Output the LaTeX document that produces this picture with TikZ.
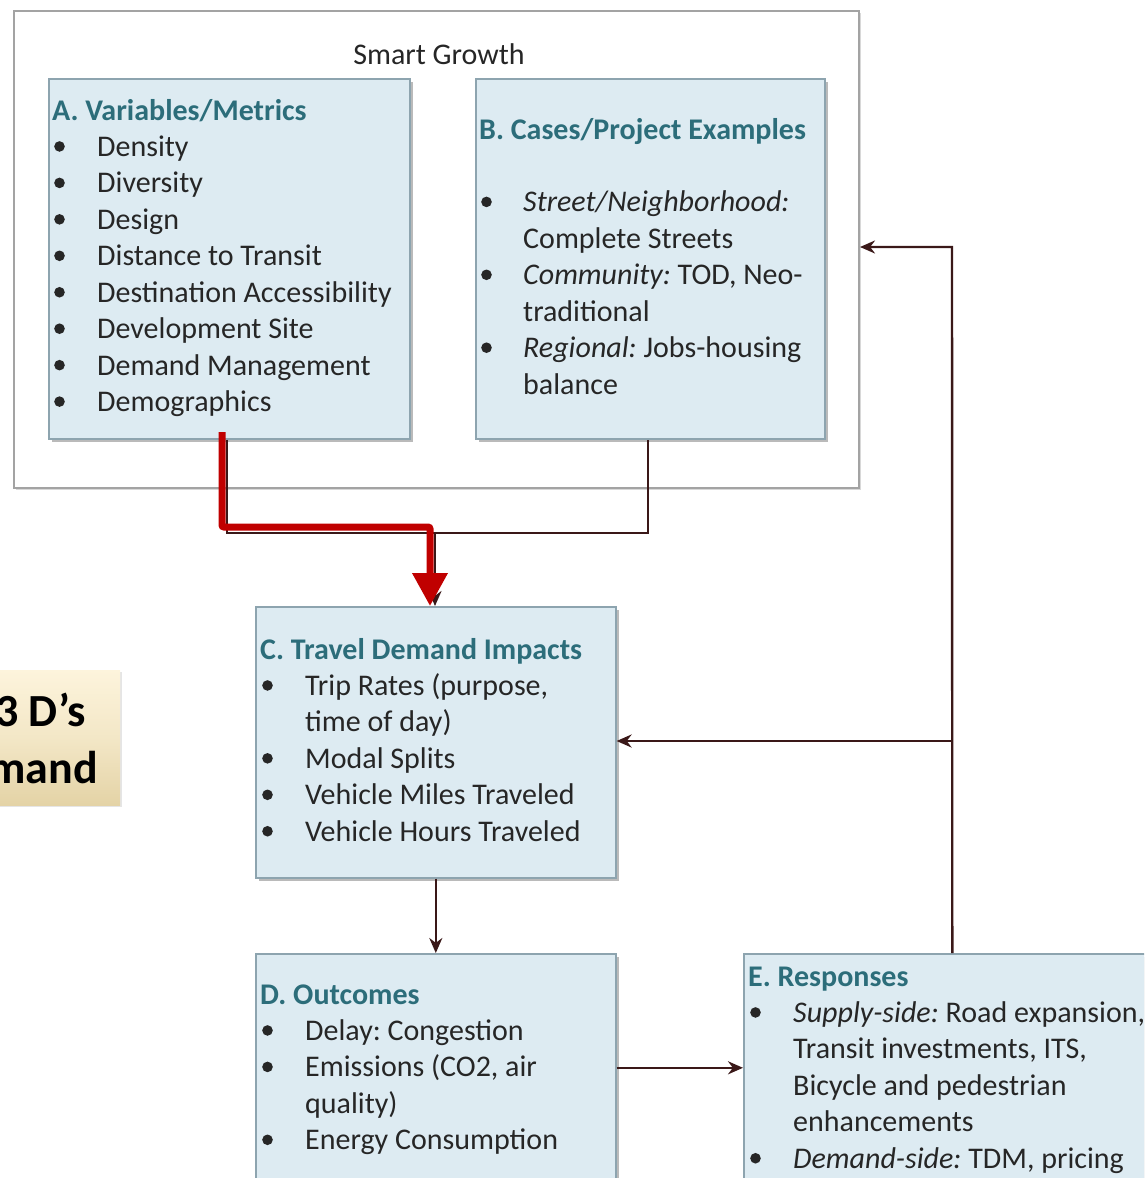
\documentclass[tikz,border=0pt]{standalone}
\usepackage{fontspec}
\setmainfont{Carlito}
\frenchspacing
\usetikzlibrary{arrows.meta,shadows,calc}

\definecolor{panelfill}{HTML}{DDEBF2}
\definecolor{panelline}{HTML}{8DA4AF}
\definecolor{titleteal}{HTML}{2C6D7A}
\definecolor{bodytext}{HTML}{262626}
\definecolor{linkcol}{HTML}{3A1818}
\definecolor{hilite}{HTML}{C00000}
\definecolor{outerline}{HTML}{A3A3A3}
\definecolor{creamtop}{HTML}{FDF4DC}
\definecolor{creambot}{HTML}{E4D3A6}

% one panel of text: prefix, title x, item x, title baseline, list of bullet/text pairs
\newcommand\panellines[5]{%
  \foreach \bl/\txt [count=\i from 0] in {#5} {
    \pgfmathsetmacro\yy{#4+36.45*\i}
    \ifnum\i=0
      \node[ttl] (#1-t) at (#2,\yy) {\txt};
    \else
      \node[itm] (#1-\i) at (#3,\yy) {\txt};
      \ifnum\bl=1 \fill[bodytext] (#2+7.5,\yy-10) circle (5.3pt); \fi
    \fi
  }%
}

\begin{document}
\begin{tikzpicture}[x=1pt,y=-1pt,
  panel/.style={draw=panelline, line width=1.6pt, fill=panelfill, inner sep=0pt,
    anchor=north west,
    drop shadow={shadow xshift=3pt, shadow yshift=-3pt, fill=black!45, opacity=.6}},
  outerbox/.style={draw=outerline, line width=2pt, fill=white, inner sep=0pt,
    anchor=north west,
    drop shadow={shadow xshift=2pt, shadow yshift=-2pt, fill=black!30, opacity=.5}},
  ttl/.style={anchor=base west, inner sep=0pt, text=titleteal,
    font=\bfseries\fontsize{30}{36}\selectfont},
  itm/.style={anchor=base west, inner sep=0pt, text=bodytext,
    font=\fontsize{30}{36}\selectfont},
  link/.style={draw=linkcol, line width=2.4pt},
  linkarrow/.style={link, -{Stealth[length=15pt, width=13pt]}},
  bigred/.style={draw=hilite, line width=7pt, rounded corners=2pt,
    -{Triangle[length=33pt, width=34pt]}},
]
\useasboundingbox (0,0) rectangle (1144,1178);
\clip (0,0) rectangle (1144,1178);

% outer Smart Growth frame
\node[outerbox, minimum width=845pt, minimum height=477pt] (SG) at (13,10) {};
\node[anchor=base, inner sep=0pt, text=bodytext, font=\fontsize{30}{36}\selectfont]
  (SG-t) at (439,64) {Smart Growth};

% panels
\node[panel, minimum width=361pt, minimum height=360pt] (A) at (48,78) {};
\node[panel, minimum width=349pt, minimum height=360pt] (B) at (475,78) {};
\node[panel, minimum width=360pt, minimum height=271pt] (C) at (255,606) {};
\node[panel, minimum width=360pt, minimum height=228pt] (D) at (255,953) {};
\node[panel, minimum width=417pt, minimum height=228pt] (E) at (743,953) {};

% side label
\node[anchor=north west, inner sep=0pt, minimum width=130pt, minimum height=135pt,
  top color=creamtop, bottom color=creambot, middle color=creamtop!60!creambot,
  drop shadow={shadow xshift=2pt, shadow yshift=-2pt, fill=black!25, opacity=.4}]
  (SD) at (-10,670) {};
\node[anchor=base east, inner sep=0pt, font=\bfseries\fontsize{46}{52}\selectfont]
  (SD-1) at (86,726) {3 D’s};
\node[anchor=base east, inner sep=0pt, font=\bfseries\fontsize{46}{52}\selectfont]
  (SD-2) at (98,783) {mand};

% panel texts
\panellines{A}{52}{97}{120}{
  {0/{A. Variables/Metrics}}, {1/Density}, {1/Diversity}, {1/Design},
  {1/Distance to Transit}, {1/Destination Accessibility}, {1/Development Site},
  {1/Demand Management}, {1/Demographics}}
\panellines{B}{479}{523}{139}{
  {0/{B. Cases/Project Examples}}, {0/\null},
  {1/{\itshape Street/Neighborhood:}}, {0/Complete Streets},
  {1/{\itshape Community:} TOD, Neo-}, {0/traditional},
  {1/{\itshape Regional:} Jobs-housing}, {0/balance}}
\panellines{C}{260}{305}{659}{
  {0/C. Travel Demand Impacts}, {1/Trip Rates (purpose,}, {0/time of day)},
  {1/Modal Splits}, {1/Vehicle Miles Traveled}, {1/Vehicle Hours Traveled}}
\panellines{D}{260}{305}{1004}{
  {0/D. Outcomes}, {1/Delay: Congestion}, {1/Emissions (CO2, air},
  {0/quality)}, {1/Energy Consumption}}
\panellines{E}{748}{793}{986}{
  {0/E. Responses}, {1/{\itshape Supply-side:} Road expansion,},
  {0/Transit investments, ITS,}, {0/Bicycle and pedestrian},
  {0/enhancements}, {1/{\itshape Demand-side:} TDM, pricing}}

% junction points of the connectors
\coordinate (ja) at (227,533);
\coordinate (jb) at (648,533);
\coordinate (jc) at (435,533);
\coordinate (rb) at (952,247);
\coordinate (rc) at (952,741);

% A and B merge into C
\draw[link] (ja |- A.south) -- (ja) -- (jb) -- (jb |- B.south);
\draw[linkarrow] (jc) -- (jc |- C.north);
% C to D, D to E
\draw[linkarrow] (C.south) -- (D.north);
\draw[linkarrow] (D.east) -- (E.west);
% feedback from E
\draw[linkarrow] (E.north) -- (rb) -- (rb -| SG.east);
\draw[linkarrow] (rc) -- (rc -| C.east);

% highlighted path from A to C
\coordinate (ra) at (222,432);
\coordinate (rk1) at (222,527);
\coordinate (rk2) at (430,527);
\draw[bigred] (ra) -- (rk1) -- (rk2) -- (rk2 |- C.north);
\end{tikzpicture}
\end{document}
